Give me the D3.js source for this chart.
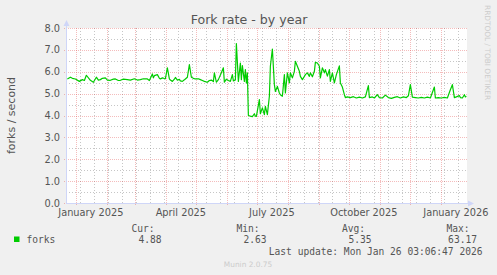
<!DOCTYPE html>
<html>
<head>
<meta charset="utf-8">
<script src="https://cdn.jsdelivr.net/npm/d3@7"></script>
<style>
  html, body { margin: 0; padding: 0; background: #f0f0f0; }
  svg { display: block; }
</style>
</head>
<body>
<script>
// ---- data ----
const title = "Fork rate - by year";
const yLabel = "forks / second";
const yTicks = [0, 1, 2, 3, 4, 5, 6, 7, 8];
const xTickLabels = ["January 2025", "April 2025", "July 2025", "October 2025", "January 2026"];
const xTickDates = ["2025-01-01", "2025-04-01", "2025-07-01", "2025-10-01", "2026-01-01"];
const seriesName = "forks";
const legendHeaders = ["Cur:", "Min:", "Avg:", "Max:"];
const legendValues = ["4.88", "2.63", "5.35", "63.17"];
const lastUpdate = "Last update: Mon Jan 26 03:06:47 2026";
const endTime = "2026-01-26T03:06:47Z";

const dates = [
  "2024-12-23","2024-12-26","2024-12-28","2024-12-31","2025-01-04","2025-01-07","2025-01-09","2025-01-11",
  "2025-01-15","2025-01-18","2025-01-21","2025-01-23","2025-01-25","2025-01-27","2025-01-30","2025-02-01",
  "2025-02-04","2025-02-07","2025-02-09","2025-02-12","2025-02-14","2025-02-17","2025-02-21","2025-02-24",
  "2025-02-28","2025-03-03","2025-03-06","2025-03-09","2025-03-13","2025-03-15","2025-03-18","2025-03-19",
  "2025-03-20","2025-03-23","2025-03-25","2025-03-26","2025-03-28","2025-03-30","2025-03-31","2025-04-02",
  "2025-04-04","2025-04-05","2025-04-07","2025-04-09","2025-04-10","2025-04-12","2025-04-14","2025-04-15",
  "2025-04-17","2025-04-19","2025-04-20","2025-04-22","2025-04-24","2025-04-26","2025-04-28","2025-04-30",
  "2025-05-03","2025-05-05","2025-05-07","2025-05-09","2025-05-12","2025-05-14","2025-05-16","2025-05-18",
  "2025-05-19","2025-05-21","2025-05-23","2025-05-26","2025-05-28","2025-05-29","2025-05-31","2025-06-02",
  "2025-06-04","2025-06-06","2025-06-07","2025-06-09","2025-06-10","2025-06-12","2025-06-14","2025-06-15",
  "2025-06-16","2025-06-18","2025-06-19","2025-06-20","2025-06-21","2025-06-22","2025-06-24","2025-06-26",
  "2025-06-28","2025-06-29","2025-06-30","2025-07-03","2025-07-04","2025-07-06","2025-07-08","2025-07-09",
  "2025-07-11","2025-07-13","2025-07-14","2025-07-16","2025-07-18","2025-07-19","2025-07-21","2025-07-23",
  "2025-07-24","2025-07-26","2025-07-28","2025-07-29","2025-07-31","2025-08-02","2025-08-03","2025-08-05",
  "2025-08-07","2025-08-08","2025-08-10","2025-08-12","2025-08-13","2025-08-15","2025-08-17","2025-08-18",
  "2025-08-20","2025-08-22","2025-08-23","2025-08-25","2025-08-27","2025-08-28","2025-08-30","2025-09-01",
  "2025-09-02","2025-09-04","2025-09-06","2025-09-07","2025-09-09","2025-09-11","2025-09-12","2025-09-14",
  "2025-09-16","2025-09-18","2025-09-21","2025-09-22","2025-09-24","2025-09-26","2025-09-27","2025-09-29",
  "2025-10-02","2025-10-05","2025-10-08","2025-10-11","2025-10-14","2025-10-17","2025-10-20","2025-10-21",
  "2025-10-24","2025-10-26","2025-10-29","2025-10-31","2025-11-03","2025-11-06","2025-11-09","2025-11-12",
  "2025-11-15","2025-11-18","2025-11-21","2025-11-24","2025-11-27","2025-11-29","2025-12-01","2025-12-03",
  "2025-12-06","2025-12-09","2025-12-12","2025-12-15","2025-12-18","2025-12-21","2025-12-25","2025-12-26",
  "2025-12-29","2026-01-01","2026-01-04","2026-01-07","2026-01-10","2026-01-12","2026-01-14","2026-01-16",
  "2026-01-19","2026-01-20","2026-01-22","2026-01-24","2026-01-25","2026-01-26"
];
const forks = [
  5.67,5.75,5.70,5.67,5.56,5.64,5.60,5.84,
  5.61,5.52,5.75,5.62,5.64,5.70,5.72,5.62,
  5.61,5.66,5.67,5.60,5.61,5.66,5.64,5.62,
  5.68,5.62,5.64,5.68,5.67,5.60,5.90,5.72,
  5.82,5.87,5.70,5.67,5.72,5.69,5.68,6.18,
  5.67,5.62,5.56,5.66,5.74,5.62,5.65,5.58,
  5.56,5.63,5.67,5.75,6.33,5.75,5.70,5.67,
  5.68,5.64,5.60,5.56,5.52,5.60,5.62,5.55,
  5.95,5.52,5.64,5.95,6.18,5.52,5.66,5.60,
  5.56,5.87,5.58,5.62,7.29,5.56,6.40,5.64,
  6.28,5.56,6.10,5.49,5.95,4.00,3.97,3.95,
  4.08,3.97,3.96,4.73,4.08,4.35,4.04,4.42,
  4.04,4.88,6.25,7.04,5.41,5.10,5.33,5.03,
  4.95,4.88,5.87,5.03,5.95,5.49,5.95,5.72,
  6.02,6.48,6.25,6.02,5.79,5.64,5.79,5.87,
  5.95,5.79,5.95,5.77,6.02,6.43,6.40,6.25,
  5.72,6.18,5.95,6.10,5.80,6.10,5.56,5.95,
  5.49,5.87,6.27,5.49,5.30,4.95,4.82,4.85,
  4.82,4.86,4.80,4.84,4.80,4.85,5.37,4.82,
  4.85,4.80,4.95,4.82,4.80,4.93,4.82,4.78,
  4.83,4.86,4.80,4.85,4.82,4.90,5.41,4.84,
  4.82,4.80,4.83,4.80,4.84,4.80,5.30,4.80,
  4.82,4.80,4.83,4.80,5.18,5.41,4.82,4.85,
  4.91,4.82,4.80,4.95,4.85,4.88
];

// ---- layout ----
const W = 497, H = 275;
const plot = { left: 66, right: 466, top: 28, bottom: 203 };
const txt = "#555555";

const svg = d3.select("body").append("svg").attr("width", W).attr("height", H);
svg.append("rect").attr("width", W).attr("height", H).attr("fill", "#f0f0f0");

const end = new Date(endTime);
const start = d3.utcDay.offset(end, -400);
const x = d3.scaleUtc().domain([start, end]).range([plot.left, plot.right]);
const y = d3.scaleLinear().domain([0, 8]).range([plot.bottom, plot.top]);

// canvas
svg.append("rect")
  .attr("x", plot.left).attr("y", plot.top)
  .attr("width", plot.right - plot.left + 1).attr("height", plot.bottom - plot.top)
  .attr("fill", "#ffffff");

const minorCol = "rgba(120,120,120,0.42)";
const majorCol = "rgba(225,70,70,0.36)";

// minor horizontal grid (half units)
const yMinor = d3.range(0.5, 8, 1);
svg.append("g").selectAll("line").data(yMinor).join("line")
  .attr("x1", plot.left).attr("x2", plot.right + 1)
  .attr("y1", d => Math.round(y(d)) + 0.5).attr("y2", d => Math.round(y(d)) + 0.5)
  .attr("stroke", minorCol).attr("stroke-dasharray", "1,2");

// minor vertical grid (every 2 weeks)
const anchor = new Date("2025-01-05T00:00:00Z");
const vMinor = [];
for (let t = d3.utcDay.offset(anchor, -14); t <= end; t = d3.utcDay.offset(t, 14)) {
  if (t >= start) vMinor.push(t);
}
svg.append("g").selectAll("line").data(vMinor).join("line")
  .attr("x1", d => Math.round(x(d)) + 0.5).attr("x2", d => Math.round(x(d)) + 0.5)
  .attr("y1", plot.top).attr("y2", plot.bottom)
  .attr("stroke", minorCol).attr("stroke-dasharray", "1,2");

// major horizontal grid
svg.append("g").selectAll("line").data(yTicks).join("line")
  .attr("x1", plot.left - 2).attr("x2", plot.right + 1)
  .attr("y1", d => Math.round(y(d)) + 0.5).attr("y2", d => Math.round(y(d)) + 0.5)
  .attr("stroke", majorCol).attr("stroke-dasharray", "1,1");

// major vertical grid (month starts)
const months = d3.utcMonth.range(d3.utcMonth.ceil(start), end);
svg.append("g").selectAll("line").data(months).join("line")
  .attr("x1", d => Math.round(x(d)) + 0.5).attr("x2", d => Math.round(x(d)) + 0.5)
  .attr("y1", plot.top).attr("y2", plot.bottom + 2)
  .attr("stroke", majorCol).attr("stroke-dasharray", "1,1");

// axes
const axisCol = "#cfd6f8";
svg.append("line").attr("x1", plot.left + 0.5).attr("x2", plot.left + 0.5)
  .attr("y1", plot.bottom).attr("y2", 24).attr("stroke", axisCol);
svg.append("line").attr("x1", plot.left).attr("x2", 470)
  .attr("y1", plot.bottom + 0.5).attr("y2", plot.bottom + 0.5).attr("stroke", axisCol);
svg.append("path").attr("d", `M${plot.left + 0.5},20 L${plot.left - 2.5},26 L${plot.left + 3.5},26 Z`).attr("fill", axisCol);
svg.append("path").attr("d", `M474,${plot.bottom + 0.5} L468,${plot.bottom - 2.5} L468,${plot.bottom + 3.5} Z`).attr("fill", axisCol);

// y tick labels
svg.append("g").selectAll("text").data(yTicks).join("text")
  .attr("x", 60).attr("y", d => y(d) + 3.5)
  .attr("text-anchor", "end")
  .attr("font-family", "DejaVu Sans").attr("font-size", 9.8).attr("fill", txt)
  .text(d => d.toFixed(1));

// x tick labels, centered mid-month
svg.append("g").selectAll("text").data(xTickDates).join("text")
  .attr("x", d => x(d3.utcDay.offset(new Date(d + "T00:00:00Z"), 15)))
  .attr("y", 215.5)
  .attr("text-anchor", "middle")
  .attr("font-family", "DejaVu Sans").attr("font-size", 9.8).attr("fill", txt)
  .text((d, i) => xTickLabels[i]);

// series line
const pts = dates.map((d, i) => [new Date(d + "T12:00:00Z"), forks[i]]);
svg.append("path").datum(pts)
  .attr("fill", "none").attr("stroke", "#00cc00").attr("stroke-width", 1.2)
  .attr("stroke-linejoin", "round")
  .attr("d", d3.line().x(d => x(d[0])).y(d => y(d[1])));

// title
svg.append("text").attr("x", 249).attr("y", 23.5).attr("text-anchor", "middle")
  .attr("font-family", "DejaVu Sans").attr("font-size", 12.6).attr("fill", txt)
  .text(title);

// y axis label
svg.append("text").attr("transform", `translate(15,${(plot.top + plot.bottom) / 2}) rotate(-90)`)
  .attr("text-anchor", "middle")
  .attr("font-family", "DejaVu Sans").attr("font-size", 11).attr("fill", txt)
  .text(yLabel);

// watermark
svg.append("text").attr("transform", "translate(485,5) rotate(90)")
  .attr("font-family", "DejaVu Sans").attr("font-size", 7.4).attr("fill", "#cccccc")
  .text("RRDTOOL / TOBI OETIKER");

// legend
const mono = "DejaVu Sans Mono";
const lfs = 9.6;
const headerX = [131.5, 236.5, 342, 446.5];
const valueEnd = [161.5, 266.5, 371.5, 477];
svg.append("g").selectAll("text").data(legendHeaders).join("text")
  .attr("x", (d, i) => headerX[i]).attr("y", 231.8)
  .attr("font-family", mono).attr("font-size", lfs).attr("fill", txt)
  .text(d => d);
svg.append("rect").attr("x", 14).attr("y", 236.5).attr("width", 5.5).attr("height", 5.5).attr("fill", "#00cc00");
svg.append("text").attr("x", 26.5).attr("y", 242.8)
  .attr("font-family", mono).attr("font-size", lfs).attr("fill", txt).text(seriesName);
svg.append("g").selectAll("text").data(legendValues).join("text")
  .attr("x", (d, i) => valueEnd[i]).attr("y", 242.8).attr("text-anchor", "end")
  .attr("font-family", mono).attr("font-size", lfs).attr("fill", txt)
  .text(d => d);
svg.append("text").attr("x", 482.5).attr("y", 254.5).attr("text-anchor", "end")
  .attr("font-family", mono).attr("font-size", lfs).attr("fill", txt).text(lastUpdate);

svg.append("text").attr("x", 248).attr("y", 267).attr("text-anchor", "middle")
  .attr("font-family", "DejaVu Sans").attr("font-size", 7.4).attr("fill", "#cccccc")
  .text("Munin 2.0.75");
</script>
</body>
</html>
